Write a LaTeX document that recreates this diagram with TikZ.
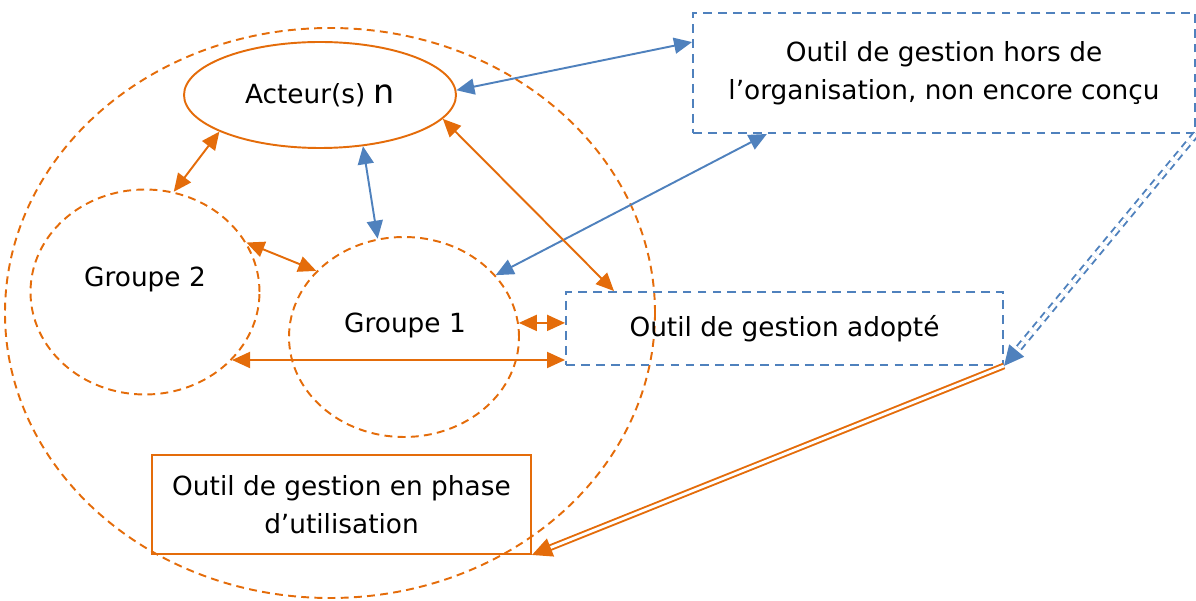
\documentclass[tikz,border=0pt]{standalone}
\usepackage{fontspec}
\setmainfont{DejaVu Sans}
\usetikzlibrary{calc,shapes.geometric,arrows.meta}
\definecolor{orgorange}{RGB}{228,108,10}
\definecolor{orgblue}{RGB}{79,129,189}
\tikzset{
	ring/.style={ellipse, draw=orgorange, line width=1.1pt, dash pattern=on 4.5pt off 3pt, inner sep=0pt},
	toolbox/.style={rectangle, draw=orgblue, line width=1.1pt, dash pattern=on 5pt off 3.5pt, align=center, inner sep=0pt},
	linkor/.style={draw=orgorange, line width=1.1pt, {Triangle[length=3.6mm,width=3.2mm]}-{Triangle[length=3.6mm,width=3.2mm]}},
	linkbl/.style={draw=orgblue, line width=1.1pt, {Triangle[length=3.6mm,width=3.2mm]}-{Triangle[length=3.6mm,width=3.2mm]}}
}

\begin{document}
\begin{tikzpicture}[every node/.style={font=\fontsize{15}{21.5}\selectfont}]
			%%%%% START %%%%%
			\useasboundingbox (0, 0) rectangle (23.92, -12.02);
			
			% the organisation
			\node[ring, minimum width=13cm, minimum height=11.4cm] (org) at (6.6, -6.26) {};
			
			\node[ellipse, draw=orgorange, line width=1.1pt, inner sep=0pt, minimum width=5.44cm, minimum height=2.12cm] (act) at (6.4, -1.9) {Acteur(s) {\fontsize{19}{19}\selectfont n}};
			
			\node[ring, minimum width=4.58cm, minimum height=4.1cm] (g2) at (2.9, -5.84) {};
			\node (g2t) at (2.9, -5.58) {Groupe 2};
			
			\node[ring, minimum width=4.6cm, minimum height=4cm] (g1) at (8.08, -6.74) {};
			\node (g1t) at (8.1, -6.5) {Groupe 1};
			
			% the tools
			\node[toolbox, minimum width=10.04cm, minimum height=2.4cm] (hors) at (18.88, -1.46) {Outil de gestion hors de\\l'organisation, non encore conçu};
			\node[toolbox, minimum width=8.74cm, minimum height=1.46cm] (ado) at (15.69, -6.57) {Outil de gestion adopté};
			\node[rectangle, draw=orgorange, line width=1.1pt, align=center, inner sep=0pt, minimum width=7.58cm, minimum height=1.98cm] (phase) at (6.83, -10.09) {Outil de gestion en phase\\d'utilisation};
			
			% blue links
			\draw[linkbl] (act.2) -- (hors.173.6);
			\draw[linkbl] (act.-50) -- (g1.105);
			\draw[linkbl] (hors.-161.3) -- (g1.34);
			
			% orange links
			\draw[linkor] (act.200) -- (g2.74.6);
			\draw[linkor] (act.-11.8) -- ($(ado.north)+(-3.41, 0)$);
			\draw[linkor] (g2.26.6) -- (g1.143.6);
			\draw[linkor] (g1.7) -- (g1.7 -| ado.west);
			\draw[linkor] (g2.-38.3) -- (g2.-38.3 -| ado.west);
			
			% steps of the tool
			\draw[orgblue, line width=1.1pt, double distance=2pt, dash pattern=on 4pt off 3pt, -{Triangle[length=4mm,width=3.8mm]}] (hors.south east) -- (ado.south east);
			\draw[orgorange, line width=1.1pt, double distance=1.6pt, -{Triangle[length=4mm,width=3.8mm]}] (ado.south east) -- (phase.south east);
			
			%%%%% END %%%%%
\end{tikzpicture}
\end{document}
